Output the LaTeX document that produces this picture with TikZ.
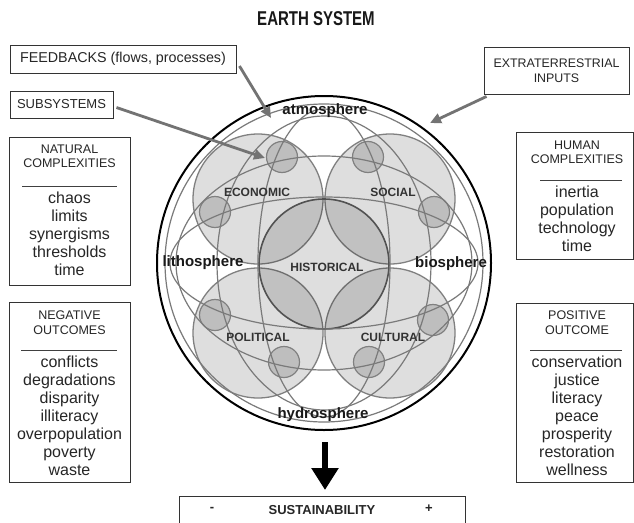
\documentclass[tikz,border=0pt]{standalone}
\usepackage{fontspec}
\setmainfont{Liberation Sans}
\usepackage{graphicx}
\usetikzlibrary{arrows.meta}
\begin{document}
\begin{tikzpicture}[x=1pt,y=-1pt,
  sph/.style={draw=black!52, line width=1.2pt},
  bigc/.style={circle, inner sep=0pt, minimum size=130pt, fill=black, fill opacity=0.13, draw=black!50, draw opacity=1, line width=1.3pt},
  smallc/.style={circle, inner sep=0pt, minimum size=31pt, fill=black, fill opacity=0.14, draw=black!50, draw opacity=1, line width=1.2pt},
  sublab/.style={font=\bfseries\fontsize{12}{13}\selectfont, text=black!80},
  sphlab/.style={font=\bfseries\fontsize{15}{16}\selectfont, text=black!90},
  box/.style={draw=black!80, line width=0.9pt, inner sep=0pt, fill=white},
  head/.style={align=center, font=\fontsize{12.5}{14.5}\selectfont, text=black!85},
  items/.style={align=center, font=\fontsize{16}{18}\selectfont, text=black!85},
  rulel/.style={draw=black!75, line width=0.6pt},
  garrow/.style={draw=black!55, line width=2.8pt, -{Triangle[length=11pt,width=10pt]}},
  darrow/.style={draw=black, line width=5.5pt, -{Triangle[length=22pt,width=26pt]}},
]
\useasboundingbox (0,0) rectangle (634,522);
\fill[white] (0,0) rectangle (634,522);

% title
\node[font=\bfseries\fontsize{20}{22}\selectfont, text=black!90] (title) at (316,19) {\scalebox{0.75}[1]{EARTH SYSTEM}};

% filled subsystem circles
\node[bigc] (eco) at (258,199) {};
\node[bigc] (soc) at (390,199) {};
\node[bigc] (pol) at (258,333) {};
\node[bigc] (cul) at (390,333) {};
\node[bigc, draw=black!68, line width=1.6pt] (his) at (324,264) {};

% small circles
\node[smallc] (s1) at (282,157) {};
\node[smallc] (s2) at (215,212) {};
\node[smallc] (s3) at (368,157) {};
\node[smallc] (s4) at (434,212) {};
\node[smallc] (s5) at (215,315) {};
\node[smallc] (s6) at (284,362) {};
\node[smallc] (s7) at (433,320) {};
\node[smallc] (s8) at (369,362) {};

% sphere outlines
\draw[sph] (324,263) circle [radius=159];
\draw[sph] (324,263) ellipse [x radius=66, y radius=154];
\draw[sph] (324,263) ellipse [x radius=107, y radius=147];
\draw[sph] (324,263) ellipse [x radius=154, y radius=66];
\draw[sph] (324,263) ellipse [x radius=148, y radius=107];
\draw[black, line width=2pt] (324,263) circle [radius=167];

% labels
\node[sphlab] (atm) at (325,111) {atmosphere};
\node[sphlab] (hyd) at (323,415) {hydrosphere};
\node[sphlab] (lit) at (203,263) {lithosphere};
\node[sphlab] (bio) at (451,264) {biosphere};
\node[sublab] (leco) at (257,192) {ECONOMIC};
\node[sublab] (lsoc) at (393,192) {SOCIAL};
\node[sublab] (lhis) at (327,267) {HISTORICAL};
\node[sublab] (lpol) at (258,337) {POLITICAL};
\node[sublab] (lcul) at (393,337) {CULTURAL};

% top boxes
\node[box, minimum width=226pt, minimum height=28pt, font=\fontsize{14.3}{16}\selectfont, text=black!85] (fb) at (123,59) {FEEDBACKS (flows, processes)};
\node[box, minimum width=103pt, minimum height=27pt, font=\fontsize{13}{15}\selectfont, text=black!85] (ss) at (61.5,104.5) {SUBSYSTEMS};
\node[box, minimum width=145pt, minimum height=47pt, align=center, font=\fontsize{12.4}{15}\selectfont, text=black!85] (ext) at (556.5,70.5) {EXTRATERRESTRIAL\\INPUTS};

% arrows
\coordinate (tfb) at (271,118);
\coordinate (tss) at (265,158);
\coordinate (tex) at (430,123);
\draw[garrow] ([shift={(3,7)}]fb.east) -- (tfb);
\draw[garrow] ([shift={(3,3)}]ss.east) -- (tss);
\draw[garrow] ([shift={(3,2)}]ext.south west) -- (tex);

% left boxes
\node[box, minimum width=121pt, minimum height=148pt] (nat) at (69.5,211) {};
\node[head] (natH) at (69.5,156.5) {NATURAL\\COMPLEXITIES};
\draw[rulel] (22,186) -- (117,186);
\node[items] (natL) at (69.5,234) {chaos\\limits\\synergisms\\thresholds\\time};

\node[box, minimum width=121pt, minimum height=180pt] (neg) at (69.5,392) {};
\node[head] (negH) at (69.5,322.5) {NEGATIVE\\OUTCOMES};
\draw[rulel] (21,350) -- (117,350);
\node[items] (negL) at (69.5,416) {conflicts\\degradations\\disparity\\illiteracy\\overpopulation\\poverty\\waste};

% right boxes
\node[box, minimum width=117pt, minimum height=127pt] (hum) at (574.5,195.5) {};
\node[head] (humH) at (577,152.5) {HUMAN\\COMPLEXITIES};
\draw[rulel] (540,180) -- (622,180);
\node[items] (humL) at (577,219) {inertia\\population\\technology\\time};

\node[box, minimum width=117pt, minimum height=179pt] (pos) at (574.5,392.5) {};
\node[head] (posH) at (577,322.5) {POSITIVE\\OUTCOME};
\draw[rulel] (530,350) -- (622,350);
\node[items] (posL) at (577,416) {conservation\\justice\\literacy\\peace\\prosperity\\restoration\\wellness};

% sustainability
\node[box, minimum width=286pt, minimum height=28pt, font=\bfseries\fontsize{13}{15}\selectfont, text=black!85] (sust) at (322,510) {SUSTAINABILITY};
\node[font=\bfseries\fontsize{13}{15}\selectfont, text=black!85] (minus) at (212,509) {-};
\node[font=\bfseries\fontsize{13}{15}\selectfont, text=black!85] (plus) at (429,509) {+};
\coordinate (dtop) at (325,442);
\coordinate (dtip) at (325,490);
\draw[darrow] (dtop) -- (dtip);
\end{tikzpicture}
\end{document}
